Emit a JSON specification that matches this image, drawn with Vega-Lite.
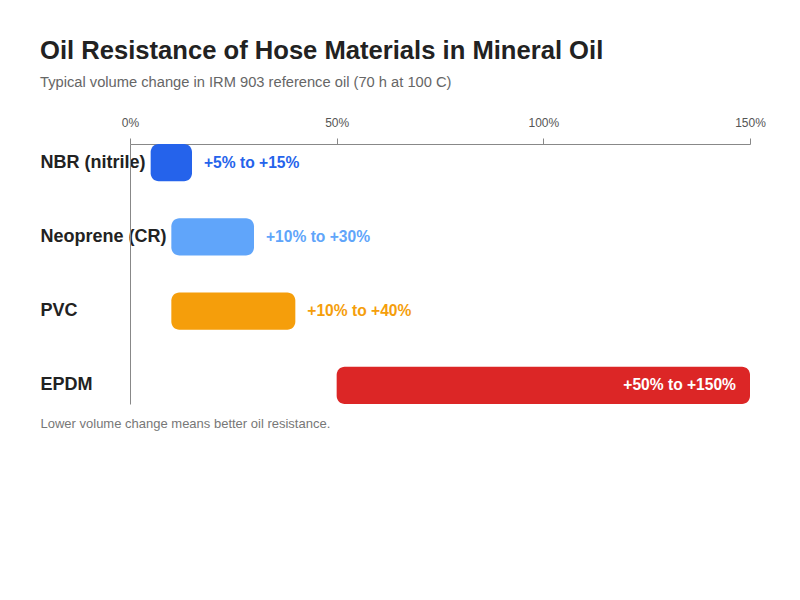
{
  "$schema": "https://vega.github.io/schema/vega-lite/v6.json",
  "width": 620,
  "height": 260,
  "padding": {"left": 40, "top": 38, "right": 10, "bottom": 10},
  "background": "white",
  "title": {
    "text": "Oil Resistance of Hose Materials in Mineral Oil",
    "subtitle": "Typical volume change in IRM 903 reference oil (70 h at 100 C)",
    "anchor": "start",
    "font": "Liberation Sans",
    "fontSize": 25.6,
    "fontWeight": "bold",
    "color": "#222222",
    "subtitleFont": "Liberation Sans",
    "subtitleFontSize": 14.7,
    "subtitleColor": "#666666",
    "subtitlePadding": 11,
    "offset": 26
  },
  "config": {"font": "Liberation Sans", "view": {"stroke": null}},
  "data": {
    "values": [
      {"material": "NBR (nitrile)", "lo": 5, "hi": 15, "label": "+5% to +15%", "inside": false},
      {"material": "Neoprene (CR)", "lo": 10, "hi": 30, "label": "+10% to +30%", "inside": false},
      {"material": "PVC", "lo": 10, "hi": 40, "label": "+10% to +40%", "inside": false},
      {"material": "EPDM", "lo": 50, "hi": 150, "label": "+50% to +150%", "inside": true}
    ]
  },
  "encoding": {
    "y": {
      "field": "material",
      "type": "nominal",
      "sort": null,
      "scale": {"paddingInner": 0.5, "paddingOuter": 0},
      "axis": {
        "title": null,
        "ticks": false,
        "labelAlign": "left",
        "labelPadding": 90,
        "labelFontSize": 18,
        "labelFontWeight": "bold",
        "labelColor": "#222222",
        "labelLimit": 300,
        "domainColor": "#888888"
      }
    }
  },
  "layer": [
    {
      "mark": {"type": "bar", "cornerRadius": 8},
      "encoding": {
        "x": {
          "field": "lo",
          "type": "quantitative",
          "scale": {"domain": [0, 150], "nice": false},
          "axis": {
            "orient": "top",
            "title": null,
            "values": [0, 50, 100, 150],
            "labelExpr": "datum.value + '%'",
            "labelFlush": false,
            "grid": false,
            "tickSize": 6,
            "labelPadding": 9,
            "labelFontSize": 12,
            "labelColor": "#555555",
            "tickColor": "#888888",
            "domainColor": "#888888"
          }
        },
        "x2": {"field": "hi"},
        "color": {
          "field": "material",
          "type": "nominal",
          "legend": null,
          "scale": {
            "domain": ["NBR (nitrile)", "Neoprene (CR)", "PVC", "EPDM"],
            "range": ["#2563eb", "#60a5fa", "#f59e0b", "#dc2626"]
          }
        }
      }
    },
    {
      "transform": [{"filter": "!datum.inside"}],
      "mark": {"type": "text", "align": "left", "dx": 12, "fontSize": 15.6, "fontWeight": "bold"},
      "encoding": {
        "x": {"field": "hi", "type": "quantitative", "axis": null},
        "text": {"field": "label"},
        "color": {"field": "material", "type": "nominal", "legend": null}
      }
    },
    {
      "transform": [{"filter": "datum.inside"}],
      "mark": {"type": "text", "align": "right", "dx": -14, "fontSize": 15.6, "fontWeight": "bold", "color": "white"},
      "encoding": {
        "x": {
          "field": "hi",
          "type": "quantitative",
          "axis": {
            "orient": "bottom",
            "labels": false,
            "ticks": false,
            "domain": false,
            "grid": false,
            "title": "Lower volume change means better oil resistance.",
            "titleX": -90,
            "titleAlign": "left",
            "titleAnchor": "start",
            "titleFontSize": 13,
            "titleFontWeight": "normal",
            "titleColor": "#777777",
            "titlePadding": 13
          }
        },
        "text": {"field": "label"}
      }
    }
  ]
}
